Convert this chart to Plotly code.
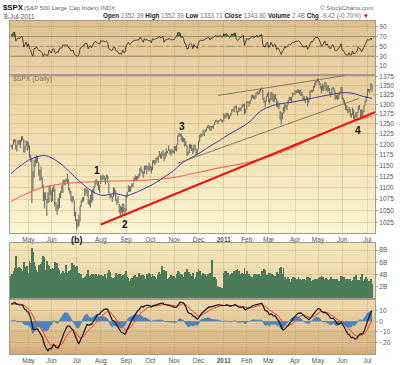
import numpy as np
import pandas as pd
import plotly.graph_objects as go

W, H = 400, 365

# ---------------- data ----------------
holidays = ['2010-05-31', '2010-07-05', '2010-09-06', '2010-11-25', '2010-12-24',
            '2011-01-17', '2011-02-21', '2011-04-22', '2011-05-30', '2011-07-04']
dates = pd.bdate_range('2010-04-12', '2011-07-08')
dates = dates[~dates.isin(pd.to_datetime(holidays))]

# closes before the visible window (indicator warm-up), Feb 1 - Apr 9 2010
warmup_close = [1089.19, 1103.32, 1097.28, 1063.11, 1066.19, 1056.74, 1070.52, 1068.13, 1078.47, 1075.51,
                1094.87, 1099.51, 1106.75, 1109.17, 1108.01, 1094.60, 1105.24, 1102.94, 1104.49,
                1115.71, 1118.31, 1118.79, 1122.97, 1138.70, 1138.50, 1140.45, 1145.61, 1150.24, 1149.99,
                1150.51, 1159.46, 1166.21, 1165.83, 1159.90, 1165.81, 1174.17, 1167.72, 1165.73, 1166.59,
                1173.22, 1173.27, 1169.43, 1178.10, 1187.44, 1189.44, 1182.45, 1186.44, 1194.37]

close = [
    1196.48, 1197.30, 1210.65, 1211.67, 1192.13, 1197.52, 1207.17, 1205.94, 1208.67, 1217.28, 1212.05, 1183.71, 1191.36, 1206.78, 1186.69,
    1202.26, 1173.60, 1165.87, 1128.15, 1110.88, 1159.73, 1155.79, 1171.67, 1157.44, 1135.68, 1136.94, 1120.80, 1115.05, 1071.59, 1087.69, 1073.65, 1074.03, 1067.95, 1103.06, 1089.41,
    1070.71, 1098.38, 1102.83, 1064.88, 1050.47, 1062.00, 1055.69, 1086.84, 1091.60, 1089.63, 1115.23, 1114.61, 1116.04, 1117.51, 1113.20, 1095.31, 1092.04, 1073.69, 1076.76, 1074.57, 1041.24, 1030.71,
    1027.37, 1022.58, 1028.06, 1060.27, 1070.25, 1077.96, 1078.75, 1095.34, 1095.17, 1096.48, 1064.88, 1071.25, 1083.48, 1069.59, 1093.67, 1102.66, 1115.01, 1113.84, 1106.13, 1101.53, 1101.60,
    1125.86, 1120.46, 1127.24, 1125.81, 1121.64, 1127.79, 1121.06, 1089.47, 1083.61, 1079.25, 1079.38, 1092.54, 1094.16, 1075.63, 1071.69, 1067.36, 1051.87, 1055.33, 1047.22, 1064.59, 1048.92, 1049.33,
    1080.29, 1090.10, 1104.51, 1091.84, 1098.87, 1104.18, 1109.55, 1121.90, 1121.10, 1125.07, 1124.66, 1125.59, 1142.71, 1139.78, 1134.28, 1124.83, 1148.67, 1142.16, 1147.70, 1144.73, 1141.20,
    1146.24, 1137.03, 1160.75, 1159.97, 1158.06, 1165.15, 1165.32, 1169.77, 1178.10, 1173.81, 1176.19, 1184.71, 1165.90, 1178.17, 1180.26, 1183.08, 1185.62, 1185.64, 1182.45, 1183.78, 1183.26,
    1184.38, 1193.57, 1197.96, 1221.06, 1225.85, 1223.25, 1213.40, 1218.71, 1213.54, 1199.21, 1197.75, 1178.34, 1178.59, 1196.69, 1199.73, 1197.84, 1180.73, 1198.35, 1189.40, 1187.76, 1180.55,
    1206.07, 1221.53, 1224.71, 1223.12, 1223.75, 1228.28, 1233.00, 1240.40, 1240.46, 1241.59, 1235.23, 1242.87, 1243.91, 1247.08, 1254.60, 1258.84, 1256.77, 1257.54, 1258.51, 1259.78, 1257.88, 1257.64,
    1271.87, 1270.20, 1276.56, 1273.85, 1271.50, 1269.75, 1274.48, 1285.96, 1283.76, 1293.24, 1295.02, 1281.92, 1280.26, 1283.35, 1290.84, 1291.18, 1296.63, 1299.54, 1276.34, 1286.12,
    1307.59, 1304.03, 1307.10, 1310.87, 1319.05, 1324.57, 1320.88, 1321.87, 1329.15, 1332.32, 1328.01, 1336.32, 1340.43, 1343.01, 1315.44, 1307.40, 1306.10, 1319.88, 1327.22,
    1306.33, 1308.44, 1330.97, 1321.15, 1310.13, 1321.82, 1320.02, 1295.11, 1304.28, 1296.39, 1281.87, 1256.88, 1273.72, 1279.21, 1298.38, 1293.77, 1297.54, 1309.66, 1313.80, 1310.19, 1319.44, 1328.26, 1325.83,
    1332.41, 1332.87, 1332.63, 1335.54, 1333.51, 1328.17, 1324.46, 1314.16, 1314.41, 1314.52, 1319.68, 1305.14, 1312.62, 1330.36, 1337.38, 1335.25, 1347.24, 1355.66, 1360.48, 1363.61,
    1361.22, 1356.62, 1347.32, 1335.10, 1340.20, 1346.29, 1357.16, 1342.08, 1348.65, 1337.77, 1329.47, 1328.98, 1340.68, 1343.60, 1333.27, 1317.37, 1316.28, 1320.47, 1325.69, 1331.10, 1345.20,
    1314.55, 1312.94, 1300.16, 1286.17, 1284.94, 1279.56, 1289.00, 1270.98, 1271.83, 1287.87, 1265.42, 1267.64, 1271.50, 1278.36, 1295.52, 1287.14, 1283.50, 1268.45, 1280.10, 1296.67, 1307.41, 1320.64,
    1339.67, 1337.88, 1339.22, 1353.22, 1343.80]

high = [
    1199, 1199, 1211, 1213, 1211, 1198, 1209, 1211, 1210, 1220, 1219, 1213, 1195, 1209, 1208,
    1205, 1197, 1175, 1168, 1136, 1163, 1170, 1174, 1173, 1157, 1141, 1148, 1124, 1107, 1090, 1090, 1075, 1090, 1104, 1103,
    1094, 1099, 1105, 1098, 1069, 1063, 1077, 1087, 1092, 1105, 1116, 1118, 1118, 1120, 1131, 1119, 1099, 1092, 1082, 1082, 1072, 1048,
    1033, 1032, 1042, 1061, 1072, 1078, 1080, 1099, 1099, 1097, 1095, 1074, 1084, 1094, 1097, 1103, 1115, 1120, 1116, 1115, 1106,
    1128, 1126, 1129, 1126, 1122, 1129, 1127, 1111, 1086, 1086, 1082, 1101, 1099, 1094, 1076, 1081, 1065, 1061, 1059, 1065, 1065, 1056,
    1082, 1090, 1105, 1103, 1103, 1110, 1110, 1123, 1127, 1126, 1126, 1131, 1144, 1148, 1141, 1136, 1149, 1150, 1150, 1149, 1157,
    1150, 1148, 1161, 1163, 1163, 1168, 1169, 1173, 1184, 1178, 1182, 1185, 1178, 1182, 1190, 1184, 1197, 1188, 1185, 1189, 1186,
    1196, 1195, 1199, 1221, 1227, 1225, 1227, 1219, 1216, 1214, 1208, 1197, 1183, 1200, 1200, 1198, 1191, 1199, 1198, 1189, 1187,
    1207, 1222, 1226, 1225, 1236, 1229, 1237, 1241, 1246, 1247, 1245, 1244, 1245, 1248, 1255, 1260, 1259, 1258, 1260, 1263, 1261, 1259,
    1277, 1274, 1277, 1278, 1277, 1271, 1277, 1287, 1287, 1294, 1296, 1297, 1282, 1291, 1291, 1292, 1300, 1301, 1302, 1287,
    1308, 1307, 1308, 1311, 1323, 1325, 1324, 1323, 1330, 1333, 1331, 1338, 1341, 1344, 1338, 1318, 1311, 1321, 1330,
    1333, 1315, 1332, 1331, 1328, 1325, 1327, 1316, 1308, 1301, 1283, 1280, 1278, 1293, 1300, 1299, 1299, 1310, 1320, 1319, 1320, 1331, 1329,
    1338, 1336, 1339, 1340, 1338, 1339, 1333, 1324, 1322, 1315, 1321, 1319, 1313, 1336, 1338, 1338, 1349, 1357, 1362, 1365,
    1371, 1362, 1357, 1349, 1355, 1350, 1359, 1358, 1349, 1351, 1343, 1331, 1342, 1346, 1343, 1333, 1323, 1325, 1328, 1334, 1345,
    1345, 1318, 1312, 1302, 1297, 1288, 1293, 1288, 1277, 1292, 1287, 1274, 1280, 1280, 1296, 1298, 1286, 1287, 1284, 1297, 1310, 1322,
    1341, 1340, 1340, 1357, 1352]

low = [
    1193, 1187, 1198, 1205, 1187, 1183, 1198, 1199, 1191, 1206, 1211, 1181, 1181, 1194, 1186,
    1188, 1168, 1158, 1066, 1095, 1122, 1147, 1155, 1156, 1126, 1115, 1117, 1100, 1071, 1055, 1073, 1040, 1066, 1069, 1084,
    1069, 1071, 1091, 1060, 1050, 1042, 1053, 1056, 1077, 1089, 1089, 1107, 1105, 1113, 1108, 1094, 1085, 1071, 1066, 1071, 1039, 1029,
    1011, 1016, 1018, 1028, 1059, 1068, 1070, 1081, 1087, 1082, 1064, 1062, 1057, 1068, 1072, 1087, 1101, 1109, 1104, 1095, 1089,
    1108, 1116, 1119, 1116, 1107, 1120, 1111, 1088, 1076, 1079, 1069, 1080, 1085, 1071, 1063, 1067, 1046, 1040, 1046, 1040, 1048, 1040,
    1050, 1079, 1091, 1091, 1091, 1101, 1101, 1112, 1116, 1115, 1118, 1121, 1126, 1136, 1131, 1122, 1131, 1141, 1130, 1140, 1136,
    1139, 1132, 1139, 1155, 1151, 1155, 1163, 1156, 1171, 1166, 1166, 1174, 1159, 1166, 1171, 1178, 1185, 1177, 1173, 1178, 1180,
    1177, 1185, 1183, 1199, 1219, 1218, 1209, 1205, 1205, 1194, 1196, 1173, 1174, 1179, 1190, 1184, 1177, 1181, 1187, 1174, 1174,
    1187, 1206, 1216, 1219, 1223, 1220, 1230, 1232, 1240, 1238, 1233, 1233, 1239, 1238, 1247, 1254, 1254, 1249, 1256, 1259, 1256, 1253,
    1257, 1263, 1265, 1270, 1262, 1263, 1270, 1275, 1282, 1280, 1289, 1279, 1271, 1280, 1282, 1282, 1291, 1294, 1274, 1277,
    1286, 1302, 1294, 1301, 1311, 1316, 1314, 1312, 1316, 1326, 1326, 1328, 1333, 1338, 1312, 1303, 1294, 1307, 1320,
    1306, 1302, 1310, 1312, 1306, 1306, 1314, 1294, 1292, 1287, 1261, 1249, 1261, 1276, 1281, 1292, 1285, 1299, 1310, 1310, 1305, 1320, 1325,
    1326, 1329, 1330, 1330, 1326, 1322, 1322, 1312, 1309, 1303, 1313, 1295, 1304, 1313, 1331, 1331, 1335, 1344, 1351, 1358,
    1358, 1351, 1341, 1329, 1336, 1336, 1347, 1336, 1333, 1335, 1329, 1319, 1328, 1338, 1331, 1312, 1315, 1311, 1314, 1325, 1331,
    1313, 1305, 1297, 1286, 1284, 1277, 1280, 1269, 1265, 1272, 1262, 1258, 1267, 1265, 1278, 1286, 1262, 1266, 1267, 1280, 1297, 1307,
    1318, 1333, 1330, 1340, 1334]

volume_b = [
    3.8, 4.0, 4.6, 5.0, 7.1, 5.0, 4.6, 5.2, 5.0, 4.9, 4.6, 6.0, 5.2, 4.4, 5.3,
    4.2, 6.2, 5.8, 8.4, 7.6, 6.1, 5.4, 4.8, 4.4, 5.6, 5.2, 5.7, 6.0, 7.0, 6.9, 4.7, 6.2, 5.6, 5.4, 4.8,
    4.9, 5.0, 4.9, 6.0, 4.9, 5.8, 5.0, 4.7, 4.0, 4.2, 4.6, 4.2, 4.3, 5.6, 4.3, 4.6, 4.5, 4.7, 5.8, 3.9, 5.5, 5.2,
    5.4, 3.6, 4.3, 4.0, 4.0, 3.4, 3.4, 3.6, 3.8, 4.1, 4.8, 3.7, 3.9, 4.0, 4.1, 3.9, 3.8, 4.0, 3.8, 4.0, 3.9,
    3.9, 3.8, 3.8, 3.6, 4.0, 3.4, 4.2, 4.8, 4.4, 3.5, 3.3, 3.4, 3.6, 4.3, 3.9, 3.6, 4.1, 4.0, 3.7, 3.9, 2.8, 4.1,
    4.5, 3.5, 3.4, 3.0, 3.3, 3.4, 3.3, 3.8, 3.9, 3.6, 3.5, 4.2, 3.6, 3.9, 3.8, 3.9, 3.7, 3.2, 4.0, 3.6, 4.3,
    4.0, 3.6, 4.1, 3.8, 3.6, 3.3, 2.5, 3.9, 4.4, 4.1, 5.3, 3.9, 4.8, 4.2, 4.5, 3.2, 3.4, 3.6, 3.9, 3.7, 3.5,
    3.8, 3.4, 4.0, 4.5, 4.4, 3.5, 4.0, 3.9, 3.5, 4.4, 3.6, 4.9, 3.9, 4.4, 4.1, 3.8, 4.2, 3.3, 1.6, 3.6, 4.4,
    4.9, 4.5, 3.9, 3.5, 4.2, 3.8, 4.0, 3.8, 4.0, 4.0, 4.3, 4.1, 6.4, 3.5, 3.5, 3.2, 2.1, 1.9, 2.0, 1.9, 1.7, 1.8,
    4.3, 4.6, 4.5, 4.1, 4.3, 3.9, 4.0, 4.3, 4.2, 4.6, 4.4, 4.8, 4.9, 4.5, 4.0, 4.1, 4.2, 4.0, 5.0, 4.1,
    4.6, 4.0, 4.0, 3.8, 3.6, 3.6, 3.9, 4.1, 4.0, 3.6, 3.9, 4.0, 3.8, 4.6, 4.5, 4.9, 4.8, 3.9, 3.9,
    4.2, 4.2, 4.0, 4.0, 3.9, 3.8, 3.8, 4.4, 4.1, 4.0, 5.0, 5.2, 4.1, 5.0, 3.6, 3.3, 3.3, 3.6, 3.2, 2.8, 3.2, 3.6, 3.6,
    3.4, 2.9, 3.2, 3.5, 3.3, 3.1, 2.7, 3.2, 3.3, 3.1, 3.5, 3.6, 3.1, 3.4, 2.9, 2.4, 3.1, 3.3, 3.2, 3.0,
    3.2, 3.4, 3.6, 3.7, 3.5, 3.0, 3.2, 3.4, 3.3, 3.1, 3.3, 3.5, 3.2, 3.0, 3.2, 3.1, 3.3, 3.2, 2.9, 2.6, 3.7,
    3.6, 3.4, 3.5, 3.2, 3.2, 3.2, 3.0, 3.3, 3.0, 3.1, 3.6, 3.4, 3.9, 2.8, 3.1, 3.1, 3.5, 4.0, 3.0, 2.9, 3.2, 3.5,
    3.3, 2.9, 2.9, 3.2, 2.4]

# moving averages (every 5 / 10 sessions)
ma50_step, ma50 = 5, [1132, 1143, 1153, 1162, 1168, 1172, 1173, 1168, 1160, 1150, 1138, 1125, 1113, 1102, 1093, 1086,
                      1083, 1085, 1087, 1085, 1082, 1086, 1091, 1097, 1103, 1110, 1118, 1127, 1135, 1147, 1158, 1166,
                      1173, 1181, 1190, 1199, 1207, 1216, 1225, 1233, 1241, 1250, 1262, 1278, 1288, 1294, 1299, 1302,
                      1304, 1306, 1309, 1312, 1315, 1318, 1321, 1324, 1327, 1329, 1331, 1330, 1327, 1322, 1318, 1316]
ma200_step, ma200 = 10, [1070, 1083, 1094, 1102, 1107, 1110, 1112, 1113, 1114, 1115, 1115, 1116, 1117, 1119, 1122, 1127,
                         1133, 1138, 1144, 1149, 1154, 1160, 1167, 1176, 1186, 1198, 1212, 1224, 1236, 1248, 1258, 1267, 1270]

# hand-drawn trend lines: (date, price) anchor pairs
support_line = [('2010-08-02', 1021.7), ('2011-07-08', 1276.6)]
lower_channel = [('2010-11-05', 1156.0), ('2011-06-22', 1316.0)]
upper_channel = [('2010-12-27', 1323.4), ('2011-06-03', 1377.0)]

wave_text = ['1', '2', '3', '4']
wave_date = ['2010-07-28', '2010-08-31', '2010-11-10', '2011-06-21']
wave_price = [1139, 1022, 1244, 1233]

rsi_ticks = [10, 30, 50, 70, 90]
price_ticks = [1025, 1050, 1075, 1100, 1125, 1150, 1175, 1200, 1225, 1250, 1275, 1300, 1325, 1350, 1375]
vol_ticks, vol_labels = [2, 4, 6, 8], ['2B', '4B', '6B', '8B']
macd_ticks = [-20, -10, 0, 10]

n = len(dates)
assert len(close) == n and len(high) == n and len(low) == n and len(volume_b) == n, (n, len(close), len(high), len(low), len(volume_b))
idx = np.arange(n)

def didx(d):
    return int(dates.get_loc(pd.Timestamp(d)))

# ---------------- indicators ----------------
allc = np.array(warmup_close + close, dtype=float)
dlt = np.diff(allc)
gain = np.clip(dlt, 0, None)
loss = np.clip(-dlt, 0, None)
rsi_all = np.full(len(allc), np.nan)
ag, al = gain[:14].mean(), loss[:14].mean()
rsi_all[14] = 100 - 100 / (1 + ag / al)
for k in range(15, len(allc)):
    ag = (ag * 13 + gain[k - 1]) / 14
    al = (al * 13 + loss[k - 1]) / 14
    rsi_all[k] = 100 - 100 / (1 + ag / al)
rsi = rsi_all[-n:]

s = pd.Series(allc)
macd_all = s.ewm(span=12, adjust=False).mean() - s.ewm(span=26, adjust=False).mean()
sig_all = macd_all.ewm(span=9, adjust=False).mean()
macd = macd_all.values[-n:]
sig = sig_all.values[-n:]
hist = macd - sig

# month ticks
tick_idx, tick_txt = [], []
for i in range(1, n):
    if dates[i].month != dates[i - 1].month:
        tick_idx.append(i)
        tick_txt.append('<b>%d</b>' % dates[i].year if dates[i].month == 1 else dates[i].strftime('%b'))
main_txt = ['' if (dates[i].year == 2010 and dates[i].month == 7) else t for i, t in zip(tick_idx, tick_txt)]

# ---------------- geometry ----------------
def py(px):
    return 1 - px / H

def pxx(px):
    return px / W

XD = [pxx(10), pxx(375)]
D_RSI = [py(73.3), py(19)]
D_MAIN = [py(233), py(73.3)]
D_VOL = [py(299.3), py(243)]
D_MACD = [py(355), py(299.3)]
XR = [-1.0, 316.6]

FONT = 'Liberation Sans, Arial, sans-serif'
GRID = 'rgba(190,155,100,0.30)'
BORDER = '#a09a90'
LBL = '#555555'

fig = go.Figure()

# RSI panel
fig.add_trace(go.Scatter(x=idx, y=np.full(n, 70.0), mode='lines', line=dict(width=0), xaxis='x', yaxis='y', hoverinfo='skip'))
fig.add_trace(go.Scatter(x=idx, y=np.maximum(rsi, 70), mode='lines', line=dict(width=0), fill='tonexty',
                         fillcolor='#4d7a3a', xaxis='x', yaxis='y', hoverinfo='skip'))
fig.add_trace(go.Scatter(x=idx, y=rsi, mode='lines', line=dict(color='#222', width=0.8), xaxis='x', yaxis='y'))

# Main price panel
bx, by = [], []
for i in range(n):
    bx += [i, i, None, i, i + 0.5, None]
    by += [low[i], high[i], None, close[i], close[i], None]
fig.add_trace(go.Scatter(x=bx, y=by, mode='lines', line=dict(color='#6f6f62', width=1.1), xaxis='x2', yaxis='y2', connectgaps=False))

m50x = [min(k * ma50_step, n - 1) for k in range(len(ma50))]
m200x = [min(k * ma200_step, n - 1) for k in range(len(ma200))]
fig.add_trace(go.Scatter(x=m200x, y=ma200, mode='lines', line=dict(color='#f25a55', width=1, shape='spline'), xaxis='x2', yaxis='y2'))
fig.add_trace(go.Scatter(x=m50x, y=ma50, mode='lines', line=dict(color='#3a3aa6', width=1, shape='spline'), xaxis='x2', yaxis='y2'))

def line_pts(pairs, extend_to=None):
    xs = [didx(d) for d, _ in pairs]
    ys = [p for _, p in pairs]
    if extend_to is not None:
        lg = np.log(ys)
        slope = (lg[1] - lg[0]) / (xs[1] - xs[0])
        ys = [ys[0], float(np.exp(lg[1] + slope * (extend_to - xs[1])))]
        xs = [xs[0], extend_to]
    return xs, ys

for pairs, col, wd, ext in [(lower_channel, '#6b6355', 0.8, None), (upper_channel, '#6b6355', 0.8, None),
                            (support_line, '#ee1111', 2.0, XR[1])]:
    lx, ly = line_pts(pairs, ext)
    fig.add_trace(go.Scatter(x=lx, y=ly, mode='lines', line=dict(color=col, width=wd), xaxis='x2', yaxis='y2'))

# Volume panel
fig.add_trace(go.Bar(x=idx, y=volume_b, marker=dict(color='#4b7b59', line=dict(width=0)), width=0.78, xaxis='x3', yaxis='y3'))

# MACD panel
fig.add_trace(go.Scatter(x=idx, y=hist, mode='lines', line=dict(color='#3a7bbd', width=0.6), fill='tozeroy',
                         fillcolor='rgba(58,128,195,0.92)', xaxis='x4', yaxis='y4'))
fig.add_trace(go.Scatter(x=idx, y=sig, mode='lines', line=dict(color='#ee3a30', width=1), xaxis='x4', yaxis='y4'))
fig.add_trace(go.Scatter(x=idx, y=macd, mode='lines', line=dict(color='#111', width=1.2), xaxis='x4', yaxis='y4'))

# ---------------- axes ----------------
tickfont = dict(family=FONT, size=6.5, color=LBL)
xcommon = dict(range=XR, domain=XD, showgrid=True, gridcolor=GRID, gridwidth=1, tickvals=tick_idx,
               zeroline=False, showline=True, linecolor=BORDER, linewidth=1, mirror=True, ticks='',
               fixedrange=True, tickfont=tickfont)
ycommon = dict(side='right', showgrid=True, gridcolor=GRID, gridwidth=1, zeroline=False, showline=True,
               linecolor=BORDER, linewidth=1, mirror=True, ticks='outside', ticklen=2, tickcolor='#b0a898',
               tickfont=tickfont, fixedrange=True)

fig.update_layout(
    width=W, height=H, margin=dict(l=0, r=0, t=0, b=0),
    paper_bgcolor='white', plot_bgcolor='rgba(0,0,0,0)', showlegend=False, hovermode=False,
    font=dict(family=FONT),
    xaxis=dict(xcommon, anchor='y', showticklabels=False),
    xaxis2=dict(xcommon, anchor='y2', showticklabels=True, ticktext=main_txt),
    xaxis3=dict(xcommon, anchor='y3', showticklabels=False),
    xaxis4=dict(xcommon, anchor='y4', showticklabels=True, ticktext=tick_txt),
    yaxis=dict(ycommon, anchor='x', domain=D_RSI, range=[-7.5, 102], tickvals=rsi_ticks),
    yaxis2=dict(ycommon, anchor='x2', domain=D_MAIN, type='log', range=[np.log10(1004.3), np.log10(1379.6)],
                tickvals=price_ticks, ticktext=[str(v) for v in price_ticks]),
    yaxis3=dict(ycommon, anchor='x3', domain=D_VOL, range=[0, 9.15], tickvals=vol_ticks, ticktext=vol_labels),
    yaxis4=dict(ycommon, anchor='x4', domain=D_MACD, range=[-30.8, 21.2], tickvals=macd_ticks),
    bargap=0,
)

# ---------------- gradient backgrounds ----------------
shapes = []
def gradient(xa, ya, top, bot, nb=26):
    for k in range(nb):
        t = k / (nb - 1)
        c = tuple(int(round(a + (b - a) * t)) for a, b in zip(top, bot))
        shapes.append(dict(type='rect', xref=f'{xa} domain', yref=f'{ya} domain', x0=0, x1=1,
                           y0=max(0, 1 - (k + 1) / nb - 0.004), y1=1 - k / nb,
                           fillcolor='rgb(%d,%d,%d)' % c, line=dict(width=0), layer='below'))

gradient('x', 'y', (222, 191, 141), (232, 206, 160))
gradient('x2', 'y2', (234, 208, 157), (251, 244, 208))
gradient('x3', 'y3', (242, 228, 184), (232, 211, 166))
gradient('x4', 'y4', (238, 218, 172), (212, 172, 122))

for v, dash, col in [(70, 'solid', '#8c877c'), (30, 'solid', '#8c877c'), (50, 'dashdot', '#9a958a')]:
    shapes.append(dict(type='line', xref='x domain', yref='y', x0=0, x1=1, y0=v, y1=v,
                       line=dict(color=col, width=1, dash=dash), layer='below'))
fig.update_layout(shapes=shapes)

# ---------------- text ----------------
ann = []
def txt(x, y, text, size, color='#555', xanchor='left', bold=False):
    ann.append(dict(xref='paper', yref='paper', x=pxx(x), y=py(y), text=('<b>%s</b>' % text) if bold else text,
                    showarrow=False, xanchor=xanchor, yanchor='middle', font=dict(family=FONT, size=size, color=color)))

txt(1.0, 5.8, '$SPX', 7.8, '#111', bold=True)
txt(21.5, 5.8, '(S&P 500 Large Cap Index) INDX', 6.1, '#666')
txt(375, 5.8, '© StockCharts.com', 6.2, '#666', xanchor='right')
txt(1.5, 14.3, '8-Jul-2011', 6.6, '#555')
hdr = ('<b>Open</b> <span style="color:#777">1352.39</span> <b>High</b> <span style="color:#777">1352.39</span> '
       '<b>Low</b> <span style="color:#777">1333.71</span> <b>Close</b> <span style="color:#777">1343.80</span> '
       '<b>Volume</b> <span style="color:#777">2.4B</span> <b>Chg</b> <span style="color:#777">-9.42 (-0.70%)</span> '
       '<span style="color:#d00000">▼</span>')
txt(371, 14.3, hdr, 6.3, '#222', xanchor='right')
txt(11, 77.5, '$SPX (Daily)', 6.8, '#7a7468')
txt(76.7, 239.5, '(b)', 9, '#111', xanchor='center', bold=True)

for t, d, p in zip(wave_text, wave_date, wave_price):
    ann.append(dict(xref='x2', yref='y2', x=didx(d), y=float(np.log10(p)), text='<b>%s</b>' % t, showarrow=False,
                    xanchor='center', yanchor='middle', font=dict(family=FONT, size=10, color='#111')))
fig.update_layout(annotations=ann)

fig.write_html('out.html', config={'displayModeBar': False},
               post_script="document.body.style.margin='0px';document.body.style.overflow='hidden';")
